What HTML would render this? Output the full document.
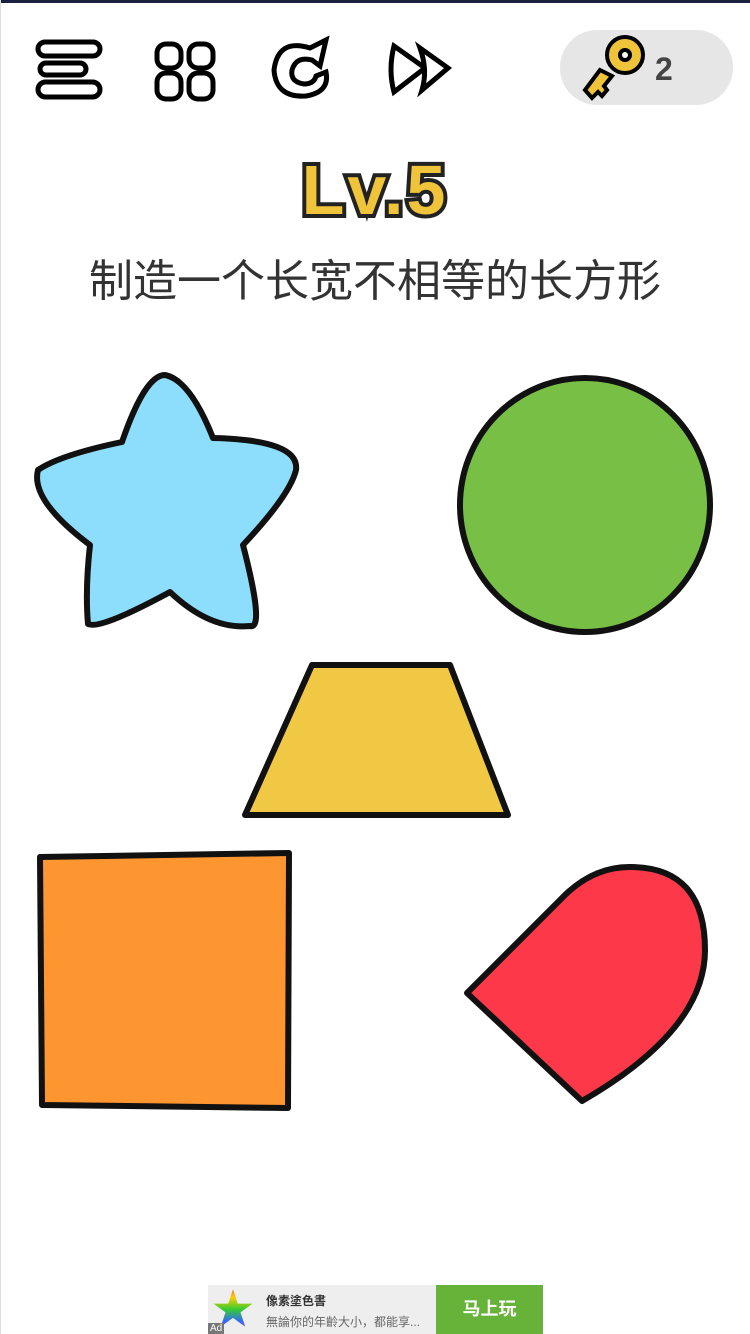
<!DOCTYPE html>
<html><head><meta charset="utf-8"><style>
body{margin:0;width:750px;height:1334px;background:#fff;overflow:hidden;position:relative;font-family:"Liberation Sans","Noto Sans CJK SC",sans-serif}
.abs{position:absolute}
</style></head><body>
<div class="abs" style="left:0;top:0;width:750px;height:3px;background:#1c2040"></div>
<div class="abs" style="left:0;top:0;width:1px;height:1334px;background:#ddd"></div>
<svg class="abs" style="left:0;top:0" width="750" height="130">
 <g fill="#fff" stroke="#000" stroke-width="5">
  <rect x="38" y="42" width="62" height="14" rx="7"/>
  <rect x="40" y="63" width="46" height="12" rx="6"/>
  <rect x="38" y="82" width="62" height="15" rx="7.5"/>
 </g>
 <g fill="#fff" stroke="#000" stroke-width="5">
  <rect x="157" y="44" width="24" height="24" rx="9"/><rect x="189" y="44" width="24" height="24" rx="9"/>
  <rect x="157" y="73" width="24" height="26" rx="9"/><rect x="189" y="73" width="24" height="26" rx="9"/>
 </g>
 <g fill="#fff" stroke="#000" stroke-width="5">
  <path d="M310 48 Q278 38 274 70 Q276 98 306 96 Q330 92 326 72 L316 76 Q314 84 304 84 Q290 82 292 70 Q296 56 312 60 L320 66 L326 40 Z"/>
 </g>
 <g fill="#fff" stroke="#000" stroke-width="5">
  <path d="M394 46 L425 68 L394 92 Q388 70 394 46Z"/><path d="M420 48 L448 68 L422 90 Q428 70 420 48Z"/>
 </g>
 <rect x="560" y="30" width="173" height="75" rx="37" fill="#e6e6e6"/>
 <g stroke="#000" stroke-width="4" fill="#f0c43a">
  <path d="M600 70 L585 90 L592 98 L598 92 L602 96 L607 90 L604 86 L612 76 Z"/>
  <circle cx="625" cy="55" r="18"/><circle cx="625" cy="55" r="5" fill="#fff"/>
 </g>
 <text x="655" y="80" font-size="32" font-weight="bold" fill="#444" font-family="Liberation Sans, sans-serif">2</text>
</svg>
<div class="abs" style="left:0;top:150px;width:750px;text-align:center;font-size:70px;font-weight:bold;color:#f0c43a;-webkit-text-stroke:8px #222;paint-order:stroke fill;letter-spacing:3px">Lv.5</div>
<div class="abs" style="left:0;top:245px;width:750px;text-align:center;font-size:44px;color:#333">制造一个长宽不相等的长方形</div>
<svg class="abs" style="left:0;top:0" width="750" height="1280" stroke="#111" stroke-width="6" stroke-linejoin="round">
 <path fill="#8ddefc" d="M165 375 Q190 380 213 438 Q300 440 296 470 Q290 495 243 545 Q265 630 250 626 Q210 630 170 592 Q100 630 88 624 Q85 590 90 545 Q30 500 38 470 Q60 455 122 442 Q145 375 165 375Z"/>
 <ellipse fill="#77c045" cx="585" cy="505" rx="125" ry="127"/>
 <path fill="#f0c843" d="M312 665 L450 665 L508 815 L245 815 Z"/>
 <path fill="#fd9631" d="M40 857 L289 853 L288 1108 L42 1105 Z"/>
 <path fill="#fd3849" d="M467 993 L582 1101 Q705 1030 705 950 Q705 868 632 867 Q595 866 565 895 Z"/>
</svg>
<div class="abs" style="left:208px;top:1285px;width:335px;height:49px;background:#eee;overflow:hidden">
 <div class="abs" style="left:4px;top:0;font-size:42px;line-height:49px;background:linear-gradient(#f33,#fc0,#3c3,#36f,#c3f);-webkit-background-clip:text;color:transparent">★</div>
 <div class="abs" style="left:0;top:38px;font-size:10px;color:#fff;background:#777;padding:0 2px">Ad</div>
 <div class="abs" style="left:58px;top:7px;font-size:12px;font-weight:bold;color:#333">像素塗色書</div>
 <div class="abs" style="left:58px;top:28px;font-size:12px;color:#666">無論你的年齡大小，都能享...</div>
 <div class="abs" style="left:228px;top:0;width:107px;height:49px;background:#67b33a;color:#fff;font-size:18px;font-weight:bold;text-align:center;line-height:49px">马上玩</div>
</div>
</body></html>
